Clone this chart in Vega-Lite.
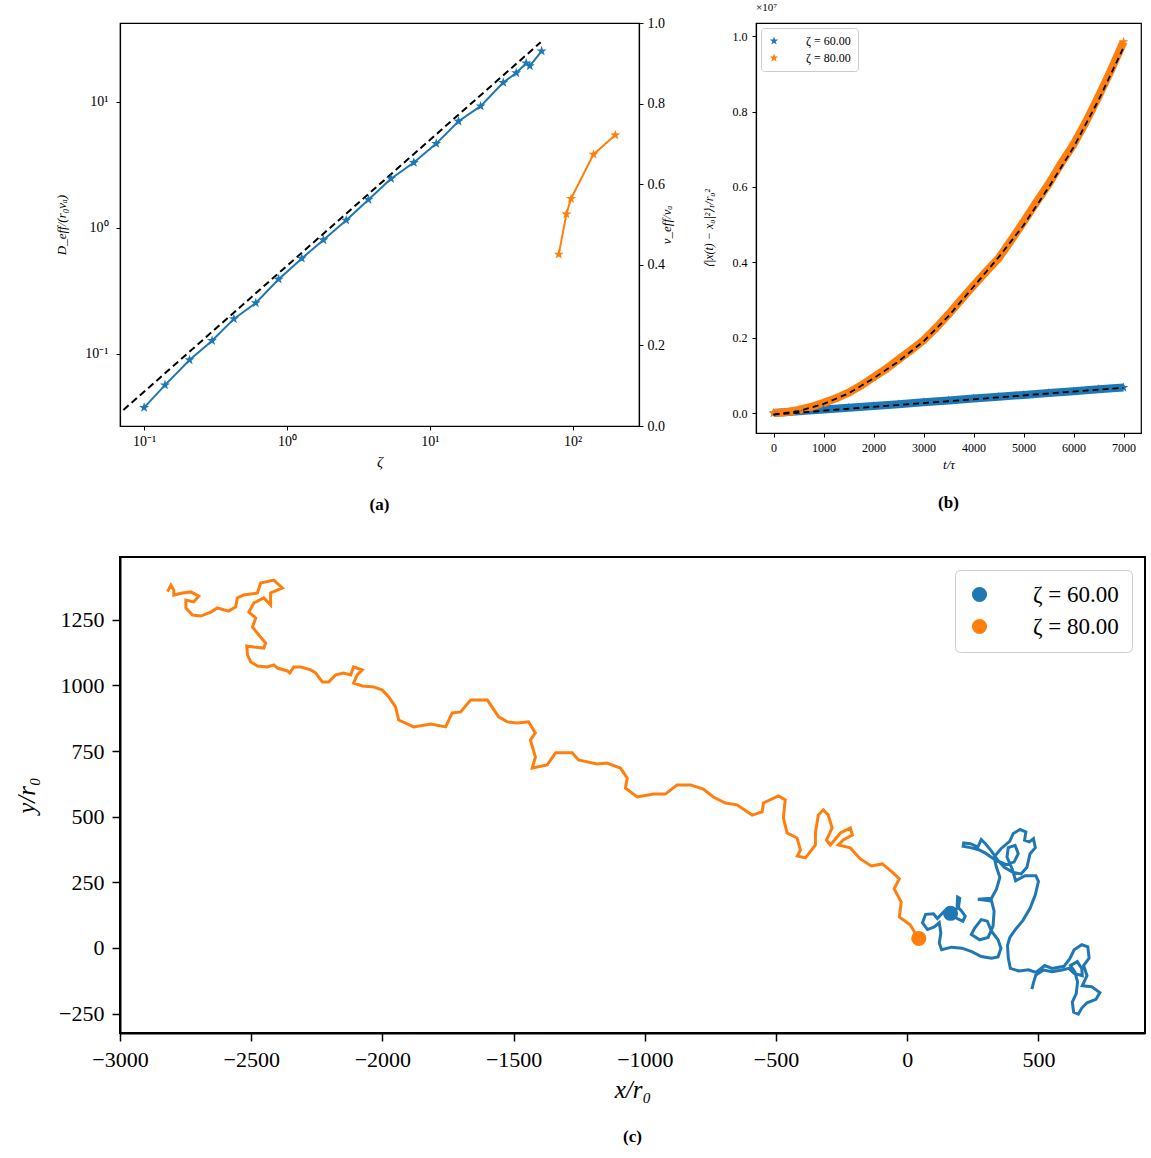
{
  "$schema": "https://vega.github.io/schema/vega-lite/v6.json",
  "padding": {"left": 13, "top": 1, "right": 0, "bottom": 0},
  "datasets": {
    "a_blue": [
      {"zeta": 0.1, "D": 0.0374}, {"zeta": 0.14, "D": 0.0564}, {"zeta": 0.208, "D": 0.0893},
      {"zeta": 0.299, "D": 0.127}, {"zeta": 0.425, "D": 0.189}, {"zeta": 0.605, "D": 0.253},
      {"zeta": 0.875, "D": 0.39}, {"zeta": 1.27, "D": 0.571}, {"zeta": 1.8, "D": 0.799},
      {"zeta": 2.6, "D": 1.146}, {"zeta": 3.72, "D": 1.67}, {"zeta": 5.35, "D": 2.45},
      {"zeta": 7.74, "D": 3.29}, {"zeta": 11.1, "D": 4.65}, {"zeta": 15.9, "D": 6.99},
      {"zeta": 22.7, "D": 9.22}, {"zeta": 32.7, "D": 14.17}, {"zeta": 40.3, "D": 16.9},
      {"zeta": 47.3, "D": 20.2}, {"zeta": 50.2, "D": 19.2}, {"zeta": 60.7, "D": 25.2}
    ],
    "a_fit": [{"zeta": 0.0716, "D": 0.0358}, {"zeta": 59.8, "D": 29.6}],
    "a_orange": [
      {"zeta": 80, "v": 0.426}, {"zeta": 90.5, "v": 0.526}, {"zeta": 97.5, "v": 0.564},
      {"zeta": 140, "v": 0.674}, {"zeta": 199, "v": 0.722}
    ],
    "b_curves": [
      {"zeta": "ζ = 60.00", "t": 0, "msd": 0}, {"zeta": "ζ = 60.00", "t": 500, "msd": 45000},
      {"zeta": "ζ = 60.00", "t": 1000, "msd": 95000}, {"zeta": "ζ = 60.00", "t": 1500, "msd": 140000},
      {"zeta": "ζ = 60.00", "t": 2000, "msd": 185000}, {"zeta": "ζ = 60.00", "t": 2500, "msd": 235000},
      {"zeta": "ζ = 60.00", "t": 3000, "msd": 285000}, {"zeta": "ζ = 60.00", "t": 3500, "msd": 335000},
      {"zeta": "ζ = 60.00", "t": 4000, "msd": 385000}, {"zeta": "ζ = 60.00", "t": 4500, "msd": 430000},
      {"zeta": "ζ = 60.00", "t": 5000, "msd": 480000}, {"zeta": "ζ = 60.00", "t": 5500, "msd": 530000},
      {"zeta": "ζ = 60.00", "t": 6000, "msd": 580000}, {"zeta": "ζ = 60.00", "t": 6500, "msd": 630000},
      {"zeta": "ζ = 60.00", "t": 7000, "msd": 675000},
      {"zeta": "ζ = 80.00", "t": 0, "msd": 0}, {"zeta": "ζ = 80.00", "t": 250, "msd": 20000},
      {"zeta": "ζ = 80.00", "t": 500, "msd": 80000}, {"zeta": "ζ = 80.00", "t": 750, "msd": 160000},
      {"zeta": "ζ = 80.00", "t": 1000, "msd": 270000}, {"zeta": "ζ = 80.00", "t": 1250, "msd": 390000},
      {"zeta": "ζ = 80.00", "t": 1500, "msd": 540000}, {"zeta": "ζ = 80.00", "t": 1750, "msd": 730000},
      {"zeta": "ζ = 80.00", "t": 2000, "msd": 950000}, {"zeta": "ζ = 80.00", "t": 2250, "msd": 1170000},
      {"zeta": "ζ = 80.00", "t": 2500, "msd": 1420000}, {"zeta": "ζ = 80.00", "t": 2750, "msd": 1670000},
      {"zeta": "ζ = 80.00", "t": 3000, "msd": 1930000}, {"zeta": "ζ = 80.00", "t": 3250, "msd": 2260000},
      {"zeta": "ζ = 80.00", "t": 3500, "msd": 2620000}, {"zeta": "ζ = 80.00", "t": 3750, "msd": 3000000},
      {"zeta": "ζ = 80.00", "t": 4000, "msd": 3380000}, {"zeta": "ζ = 80.00", "t": 4250, "msd": 3750000},
      {"zeta": "ζ = 80.00", "t": 4500, "msd": 4100000}, {"zeta": "ζ = 80.00", "t": 4750, "msd": 4580000},
      {"zeta": "ζ = 80.00", "t": 5000, "msd": 5070000}, {"zeta": "ζ = 80.00", "t": 5250, "msd": 5580000},
      {"zeta": "ζ = 80.00", "t": 5500, "msd": 6070000}, {"zeta": "ζ = 80.00", "t": 5750, "msd": 6620000},
      {"zeta": "ζ = 80.00", "t": 6000, "msd": 7130000}, {"zeta": "ζ = 80.00", "t": 6250, "msd": 7730000},
      {"zeta": "ζ = 80.00", "t": 6500, "msd": 8400000}, {"zeta": "ζ = 80.00", "t": 6750, "msd": 9100000},
      {"zeta": "ζ = 80.00", "t": 7000, "msd": 9850000}
    ],
    "b_fit": [
      {"zeta": "ζ = 60.00", "t": 0, "msd": -40000}, {"zeta": "ζ = 60.00", "t": 7000, "msd": 670000},
      {"zeta": "ζ = 80.00", "t": 0, "msd": -40000}, {"zeta": "ζ = 80.00", "t": 500, "msd": 50000},
      {"zeta": "ζ = 80.00", "t": 1000, "msd": 240000}, {"zeta": "ζ = 80.00", "t": 1500, "msd": 520000},
      {"zeta": "ζ = 80.00", "t": 2000, "msd": 920000}, {"zeta": "ζ = 80.00", "t": 2500, "msd": 1370000},
      {"zeta": "ζ = 80.00", "t": 3000, "msd": 1900000}, {"zeta": "ζ = 80.00", "t": 3500, "msd": 2570000},
      {"zeta": "ζ = 80.00", "t": 4000, "msd": 3350000}, {"zeta": "ζ = 80.00", "t": 4500, "msd": 4130000},
      {"zeta": "ζ = 80.00", "t": 5000, "msd": 4980000}, {"zeta": "ζ = 80.00", "t": 5500, "msd": 5980000},
      {"zeta": "ζ = 80.00", "t": 6000, "msd": 7050000}, {"zeta": "ζ = 80.00", "t": 6500, "msd": 8300000},
      {"zeta": "ζ = 80.00", "t": 7000, "msd": 9700000}
    ],
    "b_note": [{"t": -350, "msd": 10350000, "label": "×10⁷"}],
    "c80": [
      {"i": 1, "x": -2819, "y": 1357}, {"i": 2, "x": -2806, "y": 1382}, {"i": 3, "x": -2795, "y": 1363},
      {"i": 4, "x": -2795, "y": 1344}, {"i": 5, "x": -2762, "y": 1352}, {"i": 6, "x": -2730, "y": 1356},
      {"i": 7, "x": -2700, "y": 1340}, {"i": 8, "x": -2719, "y": 1318}, {"i": 9, "x": -2749, "y": 1325},
      {"i": 10, "x": -2749, "y": 1295}, {"i": 11, "x": -2724, "y": 1268}, {"i": 12, "x": -2692, "y": 1264},
      {"i": 13, "x": -2654, "y": 1279}, {"i": 14, "x": -2629, "y": 1295}, {"i": 15, "x": -2586, "y": 1283},
      {"i": 16, "x": -2559, "y": 1299}, {"i": 17, "x": -2553, "y": 1333}, {"i": 18, "x": -2529, "y": 1344},
      {"i": 19, "x": -2476, "y": 1352}, {"i": 20, "x": -2464, "y": 1390}, {"i": 21, "x": -2414, "y": 1401},
      {"i": 22, "x": -2381, "y": 1371}, {"i": 23, "x": -2426, "y": 1352}, {"i": 24, "x": -2426, "y": 1306},
      {"i": 25, "x": -2452, "y": 1333}, {"i": 26, "x": -2490, "y": 1314}, {"i": 27, "x": -2509, "y": 1279},
      {"i": 28, "x": -2483, "y": 1257}, {"i": 29, "x": -2495, "y": 1222}, {"i": 30, "x": -2471, "y": 1192},
      {"i": 31, "x": -2445, "y": 1161}, {"i": 32, "x": -2452, "y": 1142}, {"i": 33, "x": -2490, "y": 1146},
      {"i": 34, "x": -2517, "y": 1150}, {"i": 35, "x": -2514, "y": 1116}, {"i": 36, "x": -2502, "y": 1089},
      {"i": 37, "x": -2476, "y": 1074}, {"i": 38, "x": -2438, "y": 1070}, {"i": 39, "x": -2414, "y": 1078},
      {"i": 40, "x": -2400, "y": 1066}, {"i": 41, "x": -2362, "y": 1055}, {"i": 42, "x": -2353, "y": 1047},
      {"i": 43, "x": -2338, "y": 1070}, {"i": 44, "x": -2311, "y": 1070}, {"i": 45, "x": -2273, "y": 1059},
      {"i": 46, "x": -2254, "y": 1047}, {"i": 47, "x": -2229, "y": 1013}, {"i": 48, "x": -2205, "y": 1013},
      {"i": 49, "x": -2178, "y": 1040}, {"i": 50, "x": -2148, "y": 1047}, {"i": 51, "x": -2121, "y": 1040},
      {"i": 52, "x": -2110, "y": 1070}, {"i": 53, "x": -2077, "y": 1059}, {"i": 54, "x": -2096, "y": 1040},
      {"i": 55, "x": -2110, "y": 1009}, {"i": 56, "x": -2077, "y": 998}, {"i": 57, "x": -2033, "y": 994},
      {"i": 58, "x": -2000, "y": 982}, {"i": 59, "x": -1976, "y": 956}, {"i": 60, "x": -1950, "y": 918},
      {"i": 61, "x": -1938, "y": 868}, {"i": 62, "x": -1881, "y": 842}, {"i": 63, "x": -1816, "y": 853},
      {"i": 64, "x": -1759, "y": 842}, {"i": 65, "x": -1734, "y": 895}, {"i": 66, "x": -1702, "y": 899},
      {"i": 67, "x": -1664, "y": 944}, {"i": 68, "x": -1600, "y": 944}, {"i": 69, "x": -1557, "y": 880},
      {"i": 70, "x": -1524, "y": 861}, {"i": 71, "x": -1486, "y": 857}, {"i": 72, "x": -1443, "y": 861},
      {"i": 73, "x": -1417, "y": 819}, {"i": 74, "x": -1436, "y": 792}, {"i": 75, "x": -1417, "y": 727},
      {"i": 76, "x": -1429, "y": 685}, {"i": 77, "x": -1372, "y": 697}, {"i": 78, "x": -1340, "y": 743},
      {"i": 79, "x": -1277, "y": 743}, {"i": 80, "x": -1253, "y": 716}, {"i": 81, "x": -1182, "y": 701},
      {"i": 82, "x": -1144, "y": 704}, {"i": 83, "x": -1093, "y": 685}, {"i": 84, "x": -1067, "y": 647},
      {"i": 85, "x": -1074, "y": 609}, {"i": 86, "x": -1029, "y": 575}, {"i": 87, "x": -967, "y": 586},
      {"i": 88, "x": -922, "y": 586}, {"i": 89, "x": -877, "y": 621}, {"i": 90, "x": -826, "y": 621},
      {"i": 91, "x": -777, "y": 605}, {"i": 92, "x": -739, "y": 575}, {"i": 93, "x": -693, "y": 552},
      {"i": 94, "x": -649, "y": 545}, {"i": 95, "x": -591, "y": 506}, {"i": 96, "x": -553, "y": 518},
      {"i": 97, "x": -548, "y": 552}, {"i": 98, "x": -491, "y": 579}, {"i": 99, "x": -465, "y": 564},
      {"i": 100, "x": -472, "y": 495}, {"i": 101, "x": -458, "y": 438}, {"i": 102, "x": -420, "y": 419},
      {"i": 103, "x": -407, "y": 373}, {"i": 104, "x": -419, "y": 350}, {"i": 105, "x": -388, "y": 343},
      {"i": 106, "x": -350, "y": 392}, {"i": 107, "x": -350, "y": 438}, {"i": 108, "x": -339, "y": 506},
      {"i": 109, "x": -320, "y": 526}, {"i": 110, "x": -301, "y": 506}, {"i": 111, "x": -286, "y": 457},
      {"i": 112, "x": -308, "y": 411}, {"i": 113, "x": -293, "y": 392}, {"i": 114, "x": -255, "y": 438},
      {"i": 115, "x": -217, "y": 457}, {"i": 116, "x": -209, "y": 430}, {"i": 117, "x": -244, "y": 411},
      {"i": 118, "x": -263, "y": 392}, {"i": 119, "x": -217, "y": 381}, {"i": 120, "x": -179, "y": 339},
      {"i": 121, "x": -137, "y": 312}, {"i": 122, "x": -95, "y": 320}, {"i": 123, "x": -57, "y": 289},
      {"i": 124, "x": -30, "y": 263}, {"i": 125, "x": -50, "y": 225}, {"i": 126, "x": -23, "y": 175},
      {"i": 127, "x": -30, "y": 118}, {"i": 128, "x": 11, "y": 88}, {"i": 129, "x": 42, "y": 38}
    ],
    "c60": [
      {"i": 1, "x": 167, "y": 134}, {"i": 2, "x": 190, "y": 112}, {"i": 3, "x": 212, "y": 102},
      {"i": 4, "x": 221, "y": 121}, {"i": 5, "x": 205, "y": 143}, {"i": 6, "x": 190, "y": 160},
      {"i": 7, "x": 192, "y": 194}, {"i": 8, "x": 200, "y": 189}, {"i": 9, "x": 195, "y": 153},
      {"i": 10, "x": 169, "y": 140}, {"i": 11, "x": 141, "y": 140}, {"i": 12, "x": 115, "y": 112},
      {"i": 13, "x": 100, "y": 130}, {"i": 14, "x": 70, "y": 128}, {"i": 15, "x": 58, "y": 96},
      {"i": 16, "x": 77, "y": 70}, {"i": 17, "x": 103, "y": 80}, {"i": 18, "x": 122, "y": 96},
      {"i": 19, "x": 128, "y": 57}, {"i": 20, "x": 122, "y": 19}, {"i": 21, "x": 131, "y": -7},
      {"i": 22, "x": 169, "y": 3}, {"i": 23, "x": 208, "y": -1}, {"i": 24, "x": 246, "y": -14},
      {"i": 25, "x": 282, "y": -33}, {"i": 26, "x": 321, "y": -39}, {"i": 27, "x": 346, "y": -34},
      {"i": 28, "x": 357, "y": -1}, {"i": 29, "x": 346, "y": 31}, {"i": 30, "x": 321, "y": 64},
      {"i": 31, "x": 305, "y": 102}, {"i": 32, "x": 282, "y": 108}, {"i": 33, "x": 257, "y": 76},
      {"i": 34, "x": 244, "y": 51}, {"i": 35, "x": 276, "y": 31}, {"i": 36, "x": 308, "y": 40},
      {"i": 37, "x": 327, "y": 83}, {"i": 38, "x": 331, "y": 140}, {"i": 39, "x": 321, "y": 179},
      {"i": 40, "x": 269, "y": 185}, {"i": 41, "x": 321, "y": 189}, {"i": 42, "x": 340, "y": 224},
      {"i": 43, "x": 353, "y": 269}, {"i": 44, "x": 340, "y": 307}, {"i": 45, "x": 331, "y": 346},
      {"i": 46, "x": 357, "y": 378}, {"i": 47, "x": 391, "y": 407}, {"i": 48, "x": 404, "y": 436},
      {"i": 49, "x": 430, "y": 451}, {"i": 50, "x": 452, "y": 442}, {"i": 51, "x": 447, "y": 410},
      {"i": 52, "x": 465, "y": 404}, {"i": 53, "x": 481, "y": 416}, {"i": 54, "x": 488, "y": 382},
      {"i": 55, "x": 468, "y": 359}, {"i": 56, "x": 456, "y": 307}, {"i": 57, "x": 434, "y": 282},
      {"i": 58, "x": 404, "y": 287}, {"i": 59, "x": 370, "y": 307}, {"i": 60, "x": 346, "y": 333},
      {"i": 61, "x": 321, "y": 369}, {"i": 62, "x": 298, "y": 397}, {"i": 63, "x": 282, "y": 413},
      {"i": 64, "x": 269, "y": 384}, {"i": 65, "x": 241, "y": 397}, {"i": 66, "x": 215, "y": 400},
      {"i": 67, "x": 213, "y": 387}, {"i": 68, "x": 241, "y": 382}, {"i": 69, "x": 272, "y": 374},
      {"i": 70, "x": 298, "y": 361}, {"i": 71, "x": 334, "y": 336}, {"i": 72, "x": 375, "y": 318},
      {"i": 73, "x": 407, "y": 327}, {"i": 74, "x": 423, "y": 359}, {"i": 75, "x": 411, "y": 391},
      {"i": 76, "x": 385, "y": 382}, {"i": 77, "x": 380, "y": 346}, {"i": 78, "x": 400, "y": 301},
      {"i": 79, "x": 413, "y": 256}, {"i": 80, "x": 449, "y": 275}, {"i": 81, "x": 490, "y": 275},
      {"i": 82, "x": 500, "y": 253}, {"i": 83, "x": 488, "y": 202}, {"i": 84, "x": 468, "y": 151},
      {"i": 85, "x": 441, "y": 105}, {"i": 86, "x": 411, "y": 69}, {"i": 87, "x": 391, "y": 40},
      {"i": 88, "x": 382, "y": 10}, {"i": 89, "x": 385, "y": -39}, {"i": 90, "x": 393, "y": -78},
      {"i": 91, "x": 426, "y": -88}, {"i": 92, "x": 462, "y": -83}, {"i": 93, "x": 490, "y": -93},
      {"i": 94, "x": 524, "y": -67}, {"i": 95, "x": 552, "y": -78}, {"i": 96, "x": 597, "y": -70},
      {"i": 97, "x": 619, "y": -42}, {"i": 98, "x": 636, "y": -7}, {"i": 99, "x": 665, "y": 12},
      {"i": 100, "x": 688, "y": 4}, {"i": 101, "x": 693, "y": -39}, {"i": 102, "x": 672, "y": -67},
      {"i": 103, "x": 685, "y": -106}, {"i": 104, "x": 667, "y": -144}, {"i": 105, "x": 703, "y": -148},
      {"i": 106, "x": 734, "y": -170}, {"i": 107, "x": 719, "y": -196}, {"i": 108, "x": 685, "y": -209},
      {"i": 109, "x": 665, "y": -229}, {"i": 110, "x": 652, "y": -252}, {"i": 111, "x": 634, "y": -245},
      {"i": 112, "x": 629, "y": -206}, {"i": 113, "x": 644, "y": -174}, {"i": 114, "x": 649, "y": -129},
      {"i": 115, "x": 639, "y": -91}, {"i": 116, "x": 622, "y": -67}, {"i": 117, "x": 648, "y": -52},
      {"i": 118, "x": 665, "y": -78}, {"i": 119, "x": 667, "y": -106}, {"i": 120, "x": 636, "y": -97},
      {"i": 121, "x": 616, "y": -78}, {"i": 122, "x": 590, "y": -84}, {"i": 123, "x": 552, "y": -91},
      {"i": 124, "x": 520, "y": -84}, {"i": 125, "x": 490, "y": -103}, {"i": 126, "x": 481, "y": -132},
      {"i": 127, "x": 475, "y": -157}
    ],
    "c_dots": [
      {"zeta": "ζ = 60.00", "x": 165, "y": 132},
      {"zeta": "ζ = 80.00", "x": 44, "y": 36}
    ]
  },
  "concat": [
    {
      "concat": [
        {
          "width": 519,
          "height": 403,
          "title": {"text": "(a)", "orient": "bottom", "anchor": "middle", "fontSize": 17, "fontWeight": "bold", "offset": 28},
          "layer": [
            {
              "data": {"name": "a_fit"},
              "mark": {"type": "line", "color": "black", "strokeDash": [7, 4], "strokeWidth": 2},
              "encoding": {
                "x": {"field": "zeta", "type": "quantitative", "scale": {"type": "log", "domain": [0.0678, 291.7], "nice": false},
                  "axis": {"values": [0.1, 1, 10, 100], "labelExpr": "datum.value < 0.5 ? '10⁻¹' : datum.value < 5 ? '10⁰' : datum.value < 50 ? '10¹' : '10²'", "title": "ζ", "titleFontStyle": "italic", "titleFontSize": 15, "labelFontSize": 14, "tickSize": 4, "labelPadding": 4, "titlePadding": 6}},
                "y": {"field": "D", "type": "quantitative", "scale": {"type": "log", "domain": [0.02671, 42.1], "nice": false},
                  "axis": {"values": [0.1, 1, 10], "labelExpr": "datum.value < 0.5 ? '10⁻¹' : datum.value < 5 ? '10⁰' : '10¹'", "title": "D_eff/(r₀vₐ)", "titleFontStyle": "italic", "titleFontSize": 13, "labelFontSize": 14, "tickSize": 4, "labelPadding": 8, "minExtent": 40, "maxExtent": 40, "titlePadding": 12}}
              }
            },
            {
              "data": {"name": "a_blue"},
              "mark": {"type": "line", "color": "#1f77b4", "strokeWidth": 2},
              "encoding": {
                "x": {"field": "zeta", "type": "quantitative"},
                "y": {"field": "D", "type": "quantitative", "scale": {"type": "log", "domain": [0.02671, 42.1], "nice": false}, "axis": null}
              }
            },
            {
              "data": {"name": "a_blue"},
              "mark": {"type": "point", "shape": "M0,-1L0.2351,-0.3236L0.9511,-0.309L0.3804,0.1236L0.5878,0.809L0,0.4L-0.5878,0.809L-0.3804,0.1236L-0.9511,-0.309L-0.2351,-0.3236Z", "filled": true, "size": 110, "color": "#1f77b4", "opacity": 1},
              "encoding": {
                "x": {"field": "zeta", "type": "quantitative"},
                "y": {"field": "D", "type": "quantitative", "scale": {"type": "log", "domain": [0.02671, 42.1], "nice": false}, "axis": null}
              }
            },
            {
              "data": {"name": "a_orange"},
              "mark": {"type": "line", "color": "#ff7f0e", "strokeWidth": 2},
              "encoding": {
                "x": {"field": "zeta", "type": "quantitative"},
                "y": {"field": "v", "type": "quantitative", "scale": {"domain": [0, 1], "nice": false},
                  "axis": {"orient": "right", "values": [0, 0.2, 0.4, 0.6, 0.8, 1], "format": ".1f", "title": "v_eff/vₐ", "titleAngle": 270, "titleFontStyle": "italic", "titleFontSize": 13, "labelFontSize": 14, "tickSize": 4, "labelPadding": 4, "titlePadding": 9}}
              }
            },
            {
              "data": {"name": "a_orange"},
              "mark": {"type": "point", "shape": "M0,-1L0.2351,-0.3236L0.9511,-0.309L0.3804,0.1236L0.5878,0.809L0,0.4L-0.5878,0.809L-0.3804,0.1236L-0.9511,-0.309L-0.2351,-0.3236Z", "filled": true, "size": 110, "color": "#ff7f0e", "opacity": 1},
              "encoding": {
                "x": {"field": "zeta", "type": "quantitative"},
                "y": {"field": "v", "type": "quantitative", "scale": {"domain": [0, 1], "nice": false}, "axis": null}
              }
            }
          ],
          "resolve": {"scale": {"y": "independent"}}
        },
        {
          "width": 385,
          "height": 410,
          "title": {"text": "(b)", "orient": "bottom", "anchor": "middle", "fontSize": 17, "fontWeight": "bold", "offset": 24},
          "layer": [
            {
              "data": {"name": "b_curves"},
              "transform": [{"filter": "datum.zeta == 'ζ = 60.00'"}],
              "mark": {"type": "line", "color": "#1f77b4", "strokeWidth": 8},
              "encoding": {
                "x": {"field": "t", "type": "quantitative", "scale": {"domain": [-350, 7350], "nice": false, "zero": false},
                  "axis": {"values": [0, 1000, 2000, 3000, 4000, 5000, 6000, 7000], "format": "d", "title": "t/τ", "titleFontStyle": "italic", "titleFontSize": 13, "labelFontSize": 12, "tickSize": 4, "labelPadding": 5, "titlePadding": 5}},
                "y": {"field": "msd", "type": "quantitative", "scale": {"domain": [-530000, 10350000], "nice": false, "zero": false},
                  "axis": {"values": [0, 2000000, 4000000, 6000000, 8000000, 10000000], "labelExpr": "format(datum.value / 10000000, '.1f')", "title": "⟨|x(t) − x₀|²⟩ₜ/r₀²", "titleFontStyle": "italic", "titleFontSize": 12, "labelFontSize": 12, "tickSize": 4, "labelPadding": 5, "minExtent": 30, "maxExtent": 30, "titlePadding": 11}}
              }
            },
            {
              "data": {"name": "b_curves"},
              "transform": [{"filter": "datum.zeta == 'ζ = 80.00'"}],
              "mark": {"type": "line", "color": "#ff7f0e", "strokeWidth": 8},
              "encoding": {
                "x": {"field": "t", "type": "quantitative"},
                "y": {"field": "msd", "type": "quantitative"}
              }
            },
            {
              "data": {"name": "b_curves"},
              "mark": {"type": "point", "shape": "M0,-1L0.2351,-0.3236L0.9511,-0.309L0.3804,0.1236L0.5878,0.809L0,0.4L-0.5878,0.809L-0.3804,0.1236L-0.9511,-0.309L-0.2351,-0.3236Z", "filled": true, "size": 100, "opacity": 1},
              "encoding": {
                "x": {"field": "t", "type": "quantitative"},
                "y": {"field": "msd", "type": "quantitative"},
                "color": {"field": "zeta", "type": "nominal", "scale": {"domain": ["ζ = 60.00", "ζ = 80.00"], "range": ["#1f77b4", "#ff7f0e"]},
                  "legend": {"orient": "top-left", "title": null, "offset": 5, "labelFontSize": 12, "symbolSize": 80, "symbolType": "M0,-1L0.2351,-0.3236L0.9511,-0.309L0.3804,0.1236L0.5878,0.809L0,0.4L-0.5878,0.809L-0.3804,0.1236L-0.9511,-0.309L-0.2351,-0.3236Z", "padding": 7, "rowPadding": 5, "labelOffset": 26, "fillColor": "white", "strokeColor": "#cccccc", "cornerRadius": 3}}
              }
            },
            {
              "data": {"name": "b_fit"},
              "mark": {"type": "line", "color": "black", "strokeDash": [6, 4], "strokeWidth": 1.8},
              "encoding": {
                "x": {"field": "t", "type": "quantitative"},
                "y": {"field": "msd", "type": "quantitative"},
                "detail": {"field": "zeta", "type": "nominal"}
              }
            },
            {
              "data": {"name": "b_note"},
              "mark": {"type": "text", "align": "left", "baseline": "bottom", "dy": -10, "fontSize": 11, "color": "black"},
              "encoding": {
                "x": {"field": "t", "type": "quantitative"},
                "y": {"field": "msd", "type": "quantitative"},
                "text": {"field": "label"}
              }
            }
          ]
        }
      ],
      "columns": 2,
      "align": "none",
      "spacing": 26,
      "resolve": {"scale": {"color": "independent"}, "legend": {"color": "independent"}}
    },
    {
      "width": 1025,
      "height": 476,
      "view": {"stroke": "black", "strokeWidth": 2},
      "title": {"text": "(c)", "orient": "bottom", "anchor": "middle", "fontSize": 17, "fontWeight": "bold", "offset": 27},
      "layer": [
        {
          "data": {"name": "c80"},
          "mark": {"type": "line", "color": "#ff7f0e", "strokeWidth": 3},
          "encoding": {
            "x": {"field": "x", "type": "quantitative", "scale": {"domain": [-3000, 906], "nice": false, "zero": false},
              "axis": {"values": [-3000, -2500, -2000, -1500, -1000, -500, 0, 500], "format": "d", "title": "x/r₀", "titleFontStyle": "italic", "titleFontSize": 25, "labelFontSize": 22, "tickSize": 8, "tickWidth": 1.5, "domainWidth": 2, "labelPadding": 8, "titlePadding": 7}},
            "y": {"field": "y", "type": "quantitative", "scale": {"domain": [-324, 1489], "nice": false, "zero": false},
              "axis": {"values": [-250, 0, 250, 500, 750, 1000, 1250], "format": "d", "title": "y/r₀", "titleFontStyle": "italic", "titleFontSize": 25, "labelFontSize": 22, "tickSize": 8, "tickWidth": 1.5, "domainWidth": 2, "labelPadding": 8, "minExtent": 64, "maxExtent": 64, "titlePadding": 17}},
            "order": {"field": "i", "type": "quantitative"}
          }
        },
        {
          "data": {"name": "c60"},
          "mark": {"type": "line", "color": "#1f77b4", "strokeWidth": 3},
          "encoding": {
            "x": {"field": "x", "type": "quantitative"},
            "y": {"field": "y", "type": "quantitative"},
            "order": {"field": "i", "type": "quantitative"}
          }
        },
        {
          "data": {"name": "c_dots"},
          "mark": {"type": "point", "shape": "circle", "filled": true, "size": 230, "opacity": 1},
          "encoding": {
            "x": {"field": "x", "type": "quantitative"},
            "y": {"field": "y", "type": "quantitative"},
            "color": {"field": "zeta", "type": "nominal", "scale": {"domain": ["ζ = 60.00", "ζ = 80.00"], "range": ["#1f77b4", "#ff7f0e"]},
              "legend": {"orient": "top-right", "title": null, "offset": 13, "labelFontSize": 23, "symbolSize": 230, "symbolType": "circle", "padding": 13, "rowPadding": 8, "labelOffset": 42, "fillColor": "white", "strokeColor": "#cccccc", "cornerRadius": 5}}
          }
        }
      ]
    }
  ],
  "columns": 1,
  "align": "none",
  "spacing": 42,
  "resolve": {"scale": {"color": "independent"}, "legend": {"color": "independent"}},
  "config": {
    "font": "Liberation Serif",
    "view": {"stroke": "black", "strokeWidth": 1.2},
    "axis": {"domainColor": "black", "domainWidth": 1.2, "tickColor": "black", "tickWidth": 1, "labelColor": "black", "titleColor": "black", "grid": false, "titleFontWeight": "normal", "labelFlush": false},
    "legend": {"labelColor": "black"},
    "title": {"color": "black"}
  }
}
